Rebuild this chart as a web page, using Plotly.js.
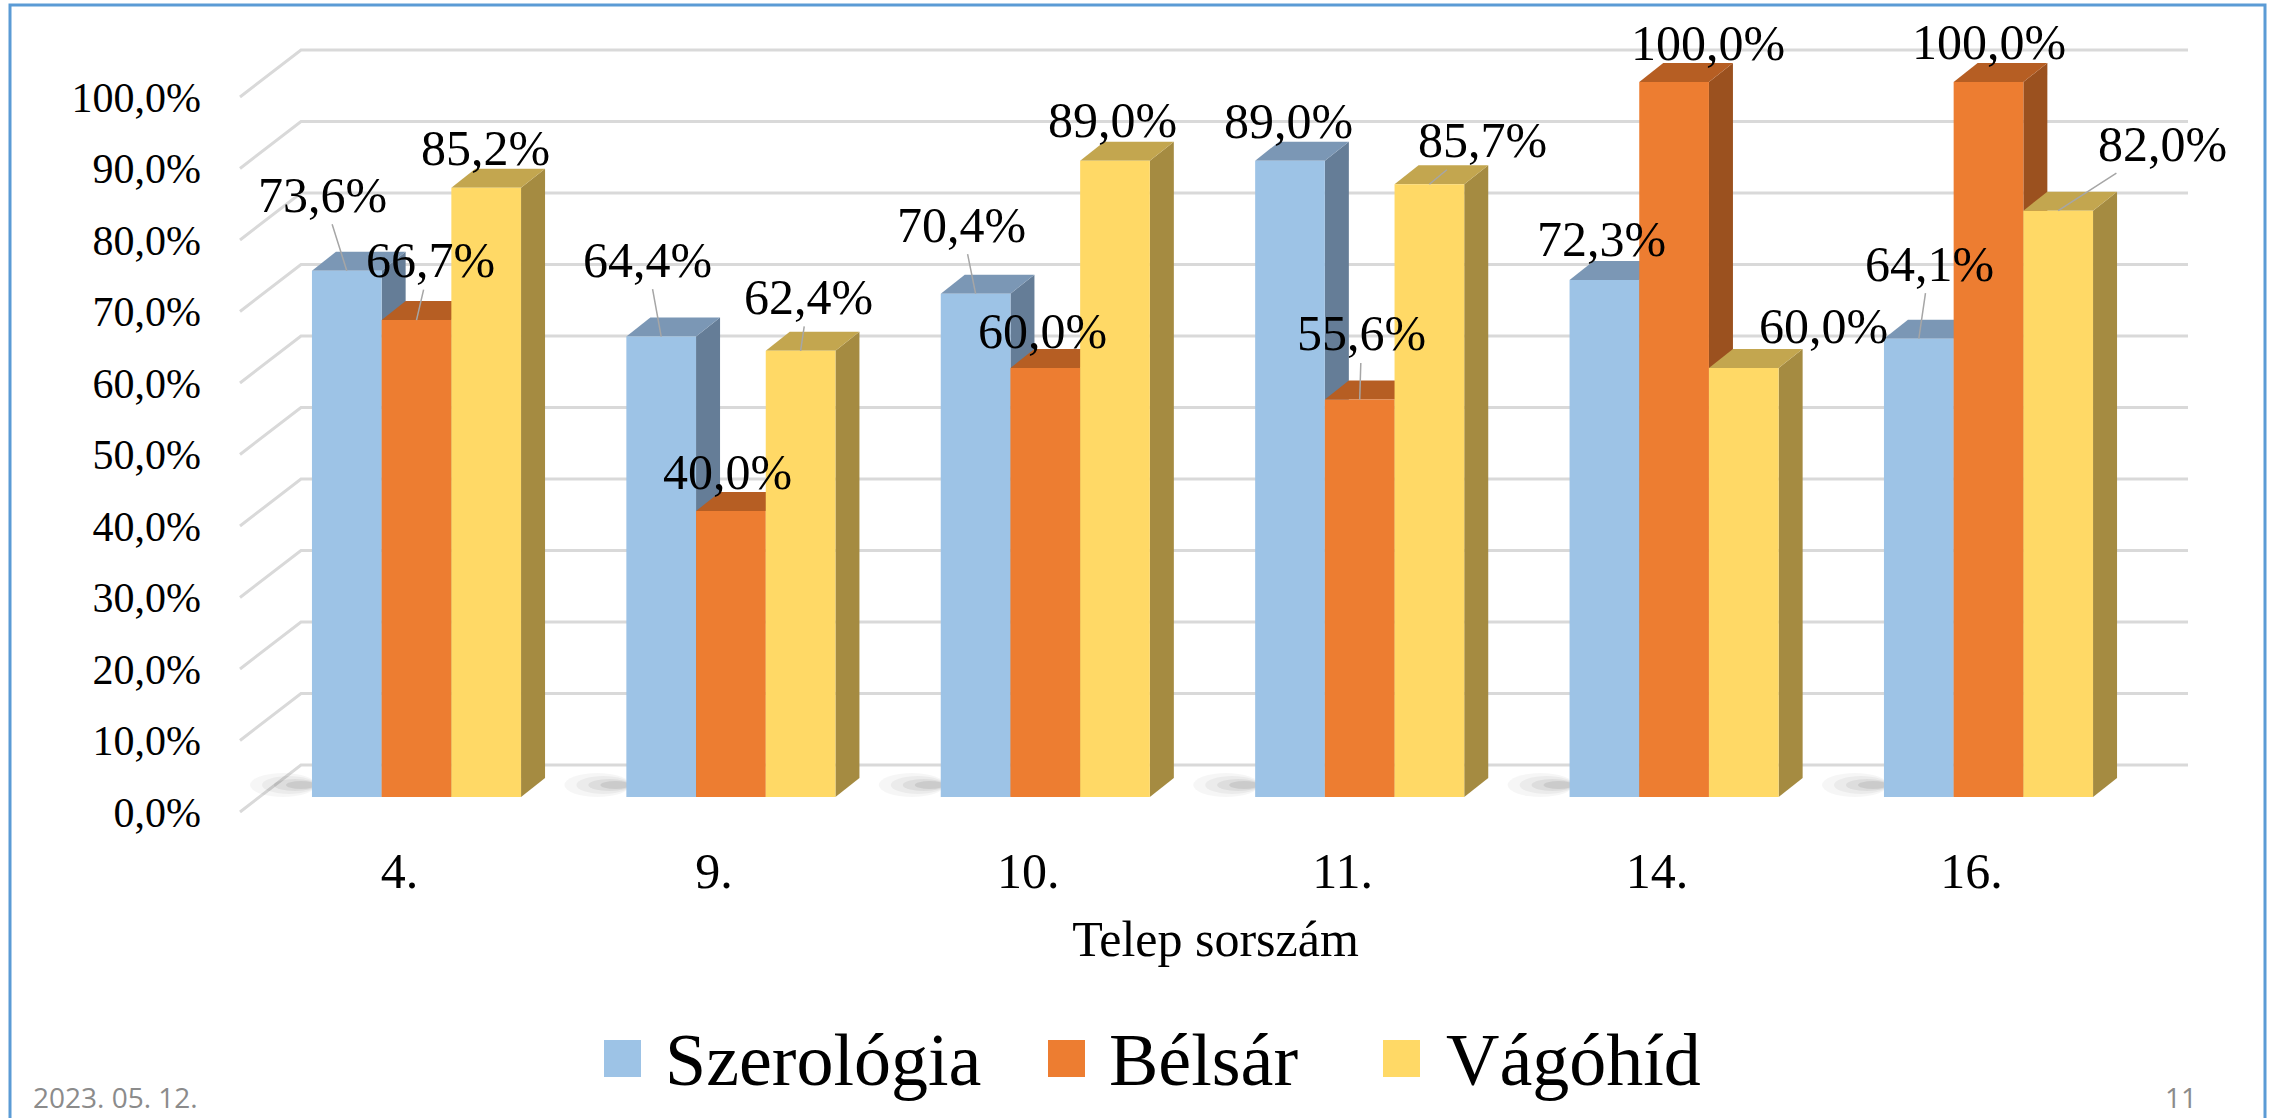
<!DOCTYPE html>
<html>
<head>
<meta charset="utf-8">
<script src="https://cdn.plot.ly/plotly-3.0.1.min.js"></script>
<style>html,body{margin:0;padding:0;background:#fff}#chart{width:2277px;height:1118px}</style>
</head>
<body>
<div id="chart"></div>
<script>
// ---------------- DATA ----------------
const categories = ['4.', '9.', '10.', '11.', '14.', '16.'];
const seriesNames = ['Szerológia', 'Bélsár', 'Vágóhíd'];
const szerologia = [0.736, 0.644, 0.704, 0.890, 0.723, 0.641];
const belsar     = [0.667, 0.400, 0.600, 0.556, 1.000, 1.000];
const vagohid    = [0.852, 0.624, 0.890, 0.857, 0.600, 0.820];
const yTickValues = [0, 0.1, 0.2, 0.3, 0.4, 0.5, 0.6, 0.7, 0.8, 0.9, 1.0];
const xAxisTitle = 'Telep sorszám';
const footerDate = '2023. 05. 12.';
const pageNumber = '11';

// ---------------- STYLE / LAYOUT CONSTANTS ----------------
const W = 2277, H = 1118;
const L = 236, R = 2195, T = 25, B = 815;          // plot area in px
const X0PX = 416.5, STEP = 314.4;                   // category 0 centre, category spacing (px)
const Y0PX = 797, SPAN = 715;                       // y=0 pixel, px per 100%
const px2x = p => (p - X0PX) / STEP;
const dX = p => p / STEP;
const dY = p => p / SPAN;
const paperX = p => (p - L) / (R - L);
const paperY = p => (B - p) / (B - T);

const frontColors = ['#9DC3E6', '#ED7D31', '#FFD966'];
const topColors   = ['#7B97B5', '#B65E23', '#C3A64F'];
const sideColors  = ['#657D97', '#9B511F', '#A58B41'];
const BARGAP = 0.335;
const barW = (1 - BARGAP) / 3;
const DEPTH_X = 24, DEPTH_Y = 19;                   // bar depth (px)
const fontFamily = '"Liberation Serif", "Times New Roman", serif';
const footerFont = '"Open Sans", "Noto Sans", sans-serif';

// label offsets [dx, dy, leader] in px relative to the bar's top-front centre
const labelOffsets = [
  [[-24, -76, 1], [-14, -77, 1], [-14, -69, 1], [-2, -40, 0], [-3, -41, 0], [11, -75, 1]],
  [[14, -60, 1], [-3, -39, 0], [-3, -37, 0], [2, -66, 1], [34, -39, 0], [0, -40, 0]],
  [[-1, -40, 0], [8, -54, 1], [-2, -41, 0], [53, -44, 1], [80, -42, 0], [104, -67, 1]]
];

const seriesValues = [szerologia, belsar, vagohid];
const xIdx = categories.map((c, i) => i);

// ---------------- TRACES (front faces) ----------------
const traces = seriesValues.map((vals, k) => ({
  type: 'bar',
  name: seriesNames[k],
  x: xIdx,
  y: vals,
  marker: {color: frontColors[k], line: {width: 0}},
  hoverinfo: 'skip',
  showlegend: false
}));

// ---------------- SHAPES ----------------
const shapes = [];
// back wall gridlines with side-wall diagonals
yTickValues.forEach(v => {
  const yf = v - dY(15), yb = v + dY(32);
  shapes.push({
    type: 'path', xref: 'x', yref: 'y', layer: 'below',
    path: `M${px2x(240)},${yf} L${px2x(301)},${yb} L${px2x(2188)},${yb}`,
    line: {color: '#D9D9D9', width: 3}
  });
});
// soft floor shadows + 3D faces
const shadowRings = [[62, 4, 0, 24, 0.035], [50, 4, 3, 21, 0.045], [38, 4, 6, 18, 0.06], [26, 4, 8, 16, 0.08]];
categories.forEach((c, i) => {
  const blueLeft = i - 1.5 * barW;
  shadowRings.forEach(([l, r, b, t, a]) => {
    shapes.push({type: 'circle', xref: 'x', yref: 'y', layer: 'below',
      x0: blueLeft - dX(l), x1: blueLeft + dX(r), y0: dY(b), y1: dY(t),
      fillcolor: `rgba(0,0,0,${a})`, line: {width: 0}});
  });
  seriesValues.forEach((vals, k) => {
    const v = vals[i];
    const cx = i + (k - 1) * barW;
    const xl = cx - barW / 2, xr = cx + barW / 2;
    const ddx = dX(DEPTH_X), ddy = dY(DEPTH_Y);
    shapes.push({type: 'path', xref: 'x', yref: 'y', layer: 'below',
      path: `M${xr},0 L${xr},${v} L${xr + ddx},${v + ddy} L${xr + ddx},${ddy} Z`,
      fillcolor: sideColors[k], line: {width: 0}});
    shapes.push({type: 'path', xref: 'x', yref: 'y', layer: 'below',
      path: `M${xl},${v} L${xr},${v} L${xr + ddx},${v + ddy} L${xl + ddx},${v + ddy} Z`,
      fillcolor: topColors[k], line: {width: 0}});
  });
});
// slide frame
shapes.push({type: 'rect', xref: 'paper', yref: 'paper',
  x0: paperX(10), x1: paperX(2265), y0: paperY(1130), y1: paperY(5),
  line: {color: '#5B9BD5', width: 3}, fillcolor: 'rgba(0,0,0,0)'});

// ---------------- ANNOTATIONS ----------------
const annotations = [];
const fmt = v => (v * 100).toFixed(1).replace('.', ',') + '%';
seriesValues.forEach((vals, k) => {
  vals.forEach((v, i) => {
    const [dx, dy, leader] = labelOffsets[k][i];
    const base = {xref: 'x', yref: 'y', x: i + (k - 1) * barW, y: v, text: fmt(v),
      font: {family: fontFamily, size: 50, color: '#000'}};
    if (leader) {
      annotations.push(Object.assign(base, {showarrow: true, ax: dx, ay: dy, arrowhead: 0,
        arrowwidth: 1.5, arrowcolor: '#A6A6A6', standoff: 0, startstandoff: 0}));
    } else {
      annotations.push(Object.assign(base, {showarrow: false, xanchor: 'center', yanchor: 'middle',
        xshift: dx, yshift: -dy}));
    }
  });
});
// custom legend
const legendSquareX = [604, 1048, 1383];
const legendTextX = [663, 1107, 1444];
seriesNames.forEach((n, k) => {
  shapes.push({type: 'rect', xref: 'paper', yref: 'paper',
    x0: paperX(legendSquareX[k]), x1: paperX(legendSquareX[k] + 37),
    y0: paperY(1077), y1: paperY(1040), fillcolor: frontColors[k], line: {width: 0}});
  annotations.push({xref: 'paper', yref: 'paper', x: paperX(legendTextX[k]), y: paperY(1060),
    xanchor: 'left', yanchor: 'middle', showarrow: false, text: n,
    font: {family: fontFamily, size: 74, color: '#000'}});
});
// footer
annotations.push({xref: 'paper', yref: 'paper', x: paperX(31), y: paperY(1097), xanchor: 'left', yanchor: 'middle',
  showarrow: false, text: footerDate, font: {family: footerFont, size: 28, color: '#8B8B8B'}});
annotations.push({xref: 'paper', yref: 'paper', x: paperX(2199), y: paperY(1097), xanchor: 'right', yanchor: 'middle',
  showarrow: false, text: pageNumber, font: {family: footerFont, size: 28, color: '#8B8B8B'}});

// ---------------- LAYOUT ----------------
const layout = {
  width: W, height: H,
  margin: {l: L, r: W - R, t: T, b: H - B, pad: 0},
  paper_bgcolor: '#FFFFFF', plot_bgcolor: '#FFFFFF',
  separators: ', ',
  barmode: 'group', bargap: BARGAP, bargroupgap: 0,
  showlegend: false,
  font: {family: fontFamily, color: '#000'},
  xaxis: {
    range: [px2x(L), px2x(R)], tickmode: 'array', tickvals: xIdx, ticktext: categories,
    showgrid: false, zeroline: false, showline: false, ticks: '',
    tickfont: {family: fontFamily, size: 50, color: '#000'},
    ticklabelshift: -17, ticklabelstandoff: 22,
    title: {text: xAxisTitle, font: {family: fontFamily, size: 50, color: '#000'}, standoff: 22},
    fixedrange: true
  },
  yaxis: {
    range: [(Y0PX - B) / SPAN, (Y0PX - T) / SPAN], tickmode: 'array', tickvals: yTickValues,
    tickformat: '.1%', showgrid: false, zeroline: false, showline: false, ticks: '',
    tickfont: {family: fontFamily, size: 42, color: '#000'},
    ticklabelshift: 15, ticklabelstandoff: 34, fixedrange: true
  },
  shapes: shapes,
  annotations: annotations
};

Plotly.newPlot('chart', traces, layout, {staticPlot: true, displayModeBar: false});
</script>
</body>
</html>
